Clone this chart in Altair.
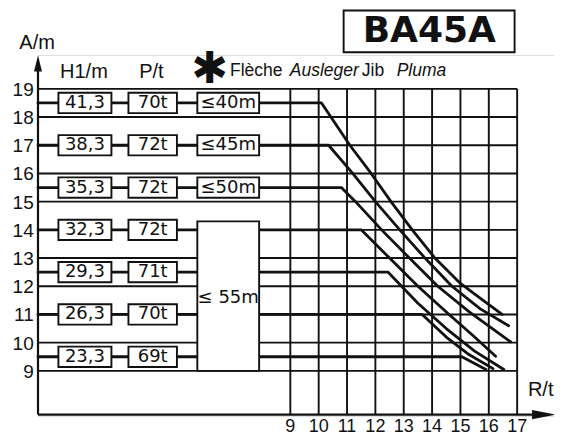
import altair as alt
import pandas as pd

# ---------------- data ----------------
h1_labels = ["41,3", "38,3", "35,3", "32,3", "29,3", "26,3", "23,3"]
p_labels = ["70t", "72t", "72t", "72t", "71t", "70t", "69t"]
jib_labels = ["≤40m", "≤45m", "≤50m"]
jib_big = "≤ 55m"
levels = [18.5, 17.0, 15.5, 14.0, 12.5, 11.0, 9.5]

curve_R = [
    [10.1, 11.1, 11.85, 12.55, 13.3, 14.1, 15.0, 15.8, 16.47],
    [10.35, 11.2, 12.0, 12.86, 13.75, 14.7, 15.7, 16.7],
    [10.8, 11.3, 12.22, 13.2, 14.2, 15.3, 16.77],
    [11.5, 12.5, 13.5, 14.6, 15.5, 16.24],
    [12.45, 13.5, 14.5, 15.5, 16.53],
    [13.65, 14.5, 15.3, 16.15],
    [15.05, 15.9],
]
curve_A = [
    [18.5, 17.0, 16.0, 15.0, 14.0, 13.0, 12.1, 11.5, 11.0],
    [17.0, 16.0, 15.0, 14.0, 13.0, 12.0, 11.2, 10.6],
    [15.5, 15.0, 14.0, 13.0, 12.0, 11.1, 10.03],
    [14.0, 13.0, 12.0, 11.0, 10.2, 9.52],
    [12.5, 11.4, 10.5, 9.7, 9.05],
    [11.0, 10.2, 9.58, 9.08],
    [9.5, 9.05],
]
y_ticks = list(range(9, 20))
x_ticks = list(range(9, 18))
title_text = "BA45A"

# ---------------- layout ----------------
R_AX = 0.1          # position of the vertical axis
A_AX = 7.45         # position of the horizontal axis
XS = alt.Scale(domain=[0.1, 18.3], nice=False, zero=False)
YS = alt.Scale(domain=[7.4, 20.2], nice=False, zero=False)
INK = "#111111"
SANS = "Liberation Sans"
WIDE = "DejaVu Sans"


def X(f):
    return alt.X(f"{f}:Q", scale=XS, axis=None)


def Y(f):
    return alt.Y(f"{f}:Q", scale=YS, axis=None)


# grid
hgrid = pd.DataFrame({"A": y_ticks, "R0": R_AX, "R1": 17})
vgrid = pd.DataFrame({"R": x_ticks, "A0": A_AX, "A1": 19})
l_hgrid = alt.Chart(hgrid).mark_rule(color=INK, strokeWidth=1.9).encode(
    x=X("R0"), x2="R1:Q", y=Y("A"))
l_vgrid = alt.Chart(vgrid).mark_rule(color=INK, strokeWidth=1.9).encode(
    x=X("R"), y=Y("A0"), y2="A1:Q")

# axes
axes_v = pd.DataFrame({"R": [R_AX], "A0": [A_AX], "A1": [19.9]})
axes_h = pd.DataFrame({"A": [A_AX], "R0": [R_AX], "R1": [17.9]})
l_axv = alt.Chart(axes_v).mark_rule(color=INK, strokeWidth=2.2).encode(
    x=X("R"), y=Y("A0"), y2="A1:Q")
l_axh = alt.Chart(axes_h).mark_rule(color=INK, strokeWidth=2.2).encode(
    x=X("R0"), x2="R1:Q", y=Y("A"))
l_arrow_up = alt.Chart(pd.DataFrame({"R": [R_AX], "A": [19.9]})).mark_point(
    shape="M -0.5 1 L 0 -1 L 0.5 1 Z", size=256, filled=True, color=INK, opacity=1
).encode(x=X("R"), y=Y("A"))
l_arrow_rt = alt.Chart(pd.DataFrame({"R": [17.95], "A": [A_AX]})).mark_point(
    shape="M -1 -0.38 L 1 0 L -1 0.38 Z", size=576, filled=True, color=INK, opacity=1
).encode(x=X("R"), y=Y("A"))

# curves (flat part starts at the vertical axis)
rows = []
for c, (rs, as_) in enumerate(zip(curve_R, curve_A)):
    pts = [(R_AX, levels[c])] + list(zip(rs, as_))
    for i, (r, a) in enumerate(pts):
        rows.append({"c": c, "i": i, "R": r, "A": a})
curves = pd.DataFrame(rows)
l_curves = alt.Chart(curves).mark_line(
    color=INK, strokeWidth=2.8, strokeJoin="round", strokeCap="round"
).encode(x=X("R"), y=Y("A"), detail="c:N", order="i:Q")

# label boxes
HH = 0.36
COLS = {"h": (0.82, 2.69), "p": (3.29, 5.0), "j": (5.72, 7.9)}
box_rows = []
text_rows = []
for k, lev in enumerate(levels):
    for key, lab in (("h", h1_labels[k]), ("p", p_labels[k])):
        x0, x1 = COLS[key]
        box_rows.append({"x0": x0, "x1": x1, "y0": lev - HH, "y1": lev + HH})
        text_rows.append({"t": lab, "R": (x0 + x1) / 2, "A": lev})
    if k < 3:
        x0, x1 = COLS["j"]
        box_rows.append({"x0": x0, "x1": x1, "y0": lev - HH, "y1": lev + HH})
        text_rows.append({"t": jib_labels[k], "R": (x0 + x1) / 2, "A": lev})
x0, x1 = COLS["j"]
box_rows.append({"x0": x0, "x1": x1, "y0": 9.0, "y1": 14.3})
box_rows.append({"x0": 10.88, "x1": 16.91, "y0": 20.3, "y1": 21.78})
boxes = pd.DataFrame(box_rows)
l_boxes = alt.Chart(boxes).mark_rect(fill="white", stroke=INK, strokeWidth=1.9).encode(
    x=X("x0"), x2="x1:Q", y=Y("y0"), y2="y1:Q")
l_boxtext = alt.Chart(pd.DataFrame(text_rows)).mark_text(
    font=WIDE, fontSize=18, color=INK, baseline="middle", align="center"
).encode(x=X("R"), y=Y("A"), text="t:N")
l_bigtext = alt.Chart(pd.DataFrame({"t": [jib_big], "R": [(x0 + x1) / 2], "A": [11.6]})).mark_text(
    font=WIDE, fontSize=18, color=INK, baseline="middle", align="center"
).encode(x=X("R"), y=Y("A"), text="t:N")

# title
l_title = alt.Chart(pd.DataFrame({"t": [title_text], "R": [13.9], "A": [21.05]})).mark_text(
    font=WIDE, fontSize=36, fontWeight="bold", color=INK, baseline="middle", align="center"
).encode(x=X("R"), y=Y("A"), text="t:N")

# tick labels
l_yt = alt.Chart(pd.DataFrame({"A": y_ticks, "R": -0.05})).mark_text(
    font=SANS, fontSize=19, color=INK, baseline="middle", align="right", dy=1
).encode(x=X("R"), y=Y("A"), text="A:Q")
l_xt = alt.Chart(pd.DataFrame({"R": x_ticks, "A": 7.0})).mark_text(
    font=SANS, fontSize=18, color=INK, baseline="middle", align="center"
).encode(x=X("R"), y=Y("A"), text="R:Q")

# headers
hdr = pd.DataFrame({"t": ["A/m", "H1/m", "P/t", "R/t"],
                    "R": [0.07, 1.72, 4.1, 17.83],
                    "A": [20.63, 19.58, 19.58, 8.33]})
l_hdr = alt.Chart(hdr).mark_text(
    font=SANS, fontSize=20, color=INK, baseline="middle", align="center"
).encode(x=X("R"), y=Y("A"), text="t:N")
l_star = alt.Chart(pd.DataFrame({"t": ["✱"], "R": [6.16], "A": [19.68]})).mark_text(
    font=WIDE, fontSize=44, fontWeight="bold", color=INK, baseline="middle", align="center"
).encode(x=X("R"), y=Y("A"), text="t:N")
jib_words = pd.DataFrame({"t": ["Flèche", "Ausleger", "Jib", "Pluma"],
                          "R": [6.87, 8.98, 11.52, 12.75],
                          "s": ["n", "i", "n", "i"], "A": 19.62})
l_jn = alt.Chart(jib_words[jib_words.s == "n"]).mark_text(
    font=SANS, fontSize=17.5, color=INK, baseline="middle", align="left"
).encode(x=X("R"), y=Y("A"), text="t:N")
l_ji = alt.Chart(jib_words[jib_words.s == "i"]).mark_text(
    font=SANS, fontSize=17.5, fontStyle="italic", color=INK, baseline="middle", align="left"
).encode(x=X("R"), y=Y("A"), text="t:N")

chart = alt.layer(
    l_hgrid, l_vgrid, l_axv, l_axh, l_arrow_up, l_arrow_rt, l_curves,
    l_boxes, l_boxtext, l_bigtext, l_title, l_yt, l_xt, l_hdr, l_star, l_jn, l_ji
).properties(
    width=516, height=361,
    autosize=alt.AutoSizeParams(type="none"),
    padding={"left": 30, "top": 47, "right": 0, "bottom": 22},
).configure_view(stroke=None).configure(background="white")

chart.save("out.html", embed_options={"renderer": "svg", "actions": False})
